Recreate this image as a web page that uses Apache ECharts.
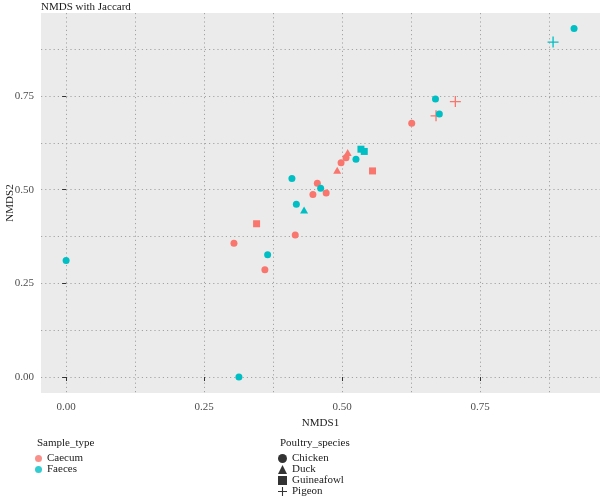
<!DOCTYPE html>
<html>
<head>
<meta charset="utf-8">
<script src="https://cdn.jsdelivr.net/npm/echarts@6/dist/echarts.min.js"></script>
<style>html,body{margin:0;padding:0;background:#fff}#c{width:600px;height:498px}</style>
</head>
<body>
<div id="c"></div>
<script>
// ---- data ----
const sampleType = ['Faeces','Faeces','Caecum','Faeces','Caecum','Caecum','Caecum','Faeces','Faeces','Faeces',
  'Caecum','Faeces','Caecum','Caecum','Caecum','Caecum','Caecum','Caecum','Faeces','Faeces',
  'Faeces','Caecum','Caecum','Faeces','Faeces','Caecum','Caecum','Faeces','Faeces'];
const species = ['Chicken','Chicken','Chicken','Chicken','Chicken','Guineafowl','Chicken','Chicken','Duck','Chicken',
  'Chicken','Chicken','Chicken','Chicken','Duck','Chicken','Chicken','Duck','Chicken','Guineafowl',
  'Guineafowl','Guineafowl','Chicken','Chicken','Chicken','Pigeon','Pigeon','Pigeon','Chicken'];
const nmds1 = [0.000,0.313,0.304,0.365,0.360,0.345,0.415,0.417,0.431,0.409,
  0.455,0.461,0.447,0.471,0.491,0.498,0.507,0.510,0.525,0.534,
  0.540,0.555,0.626,0.669,0.676,0.670,0.705,0.882,0.920];
const nmds2 = [0.311,0.000,0.357,0.326,0.286,0.409,0.379,0.461,0.446,0.530,
  0.517,0.504,0.487,0.491,0.552,0.572,0.585,0.599,0.581,0.608,
  0.602,0.550,0.677,0.742,0.702,0.697,0.735,0.894,0.930];
const sampleLevels = ['Caecum','Faeces'];
const speciesLevels = ['Chicken','Duck','Guineafowl','Pigeon'];
const xTicks = [0, 0.25, 0.5, 0.75];
const yTicks = [0, 0.25, 0.5, 0.75];
const xMinor = [0.125, 0.375, 0.625, 0.875];
const yMinor = [0.125, 0.375, 0.625, 0.875];

// ---- styles ----
const colors = {Caecum:'#F8766D', Faeces:'#00BFC4'};
const plusPath = 'path://M4.4,0H5.6V4.4H10V5.6H5.6V10H4.4V5.6H0V4.4H4.4Z';
const shapes = {Chicken:'circle', Duck:'triangle', Guineafowl:'rect', Pigeon:plusPath};
const sizes = {Chicken:7, Duck:[8,7], Guineafowl:7, Pigeon:11};
const FONT = '"Liberation Serif","DejaVu Serif",serif';

const series = [];
sampleLevels.forEach(st => {
  speciesLevels.forEach(sp => {
    const d = [];
    for (let i = 0; i < nmds1.length; i++) {
      if (sampleType[i] === st && species[i] === sp) d.push([nmds1[i], nmds2[i]]);
    }
    if (d.length) series.push({
      name: st + ' / ' + sp, type: 'scatter', data: d,
      xAxisIndex: 0, yAxisIndex: 0,
      symbol: shapes[sp], symbolSize: sizes[sp],
      itemStyle: {color: colors[st], opacity: 1},
      emphasis: {disabled: true}
    });
  });
});
// legend-only series
sampleLevels.forEach(st => series.push({name: st, type:'scatter', data: [], symbol:'circle', itemStyle:{color: colors[st]}}));
speciesLevels.forEach(sp => series.push({name: sp, type:'scatter', data: [], symbol: shapes[sp], itemStyle:{color:'#000'}}));

const gridLine = {show: true, lineStyle: {color: '#A3A3A3', width: 1, type: [1.2, 3]}};
const XMIN = -0.0455, XMAX = 0.967, YMIN = -0.0427, YMAX = 0.9715;

const option = {
  animation: false,
  backgroundColor: '#fff',
  textStyle: {fontFamily: FONT},
  title: [
    {text: 'NMDS with Jaccard', left: 36, top: -3, textStyle: {fontFamily: FONT, fontSize: 11, fontWeight: 'normal', color: '#1a1a1a'}},
    {text: 'Sample_type', left: 32, top: 433, textStyle: {fontFamily: FONT, fontSize: 11, fontWeight: 'normal', color: '#1a1a1a'}},
    {text: 'Poultry_species', left: 275, top: 433, textStyle: {fontFamily: FONT, fontSize: 11, fontWeight: 'normal', color: '#1a1a1a'}}
  ],
  legend: [
    {data: sampleLevels.map(s => ({name: s, icon: 'circle'})), left: 35, top: 453, height: 40, orient: 'vertical',
     itemWidth: 7, itemHeight: 7, itemGap: 0, selectedMode: false, padding: 0,
     textStyle: {fontFamily: FONT, fontSize: 11, color: '#1a1a1a', lineHeight: 11}},
    {data: speciesLevels.map(s => ({name: s, icon: shapes[s]})), left: 278, top: 453, height: 60, orient: 'vertical',
     itemWidth: 9, itemHeight: 9, itemGap: 0, selectedMode: false, padding: 0,
     textStyle: {fontFamily: FONT, fontSize: 11, color: '#1a1a1a', lineHeight: 11}}
  ],
  grid: {left: 41, top: 13, right: 0, bottom: 105, show: true, backgroundColor: '#ECEBEB', borderWidth: 0,
         containLabel: false, outerBoundsMode: 'none'},
  xAxis: [
    {type: 'value', min: XMIN, max: XMAX, name: 'NMDS1', nameLocation: 'middle', nameGap: 23,
     nameTextStyle: {fontFamily: FONT, fontSize: 11, color: '#1a1a1a'},
     axisLine: {show: false},
     axisTick: {show: true, length: 4, customValues: xTicks, lineStyle: {color: '#333'}},
     axisLabel: {show: true, customValues: xTicks, margin: 9, fontFamily: FONT, fontSize: 11, color: '#4D4D4D',
       formatter: v => v.toFixed(2)},
     splitLine: gridLine},
    {type: 'value', min: XMIN, max: XMAX, position: 'bottom',
     axisLine: {show: false}, axisTick: {show: false, customValues: xMinor}, axisLabel: {show: false, customValues: xMinor},
     splitLine: gridLine}
  ],
  yAxis: [
    {type: 'value', min: YMIN, max: YMAX, name: 'NMDS2', nameLocation: 'middle', nameGap: 25, nameMoveOverlap: false,
     nameTextStyle: {fontFamily: FONT, fontSize: 11, color: '#1a1a1a'},
     axisLine: {show: false},
     axisTick: {show: true, length: 4, customValues: yTicks, lineStyle: {color: '#333'}},
     axisLabel: {show: true, customValues: yTicks, margin: 7, fontFamily: FONT, fontSize: 11, color: '#4D4D4D',
       formatter: v => v.toFixed(2)},
     splitLine: gridLine},
    {type: 'value', min: YMIN, max: YMAX, position: 'left',
     axisLine: {show: false}, axisTick: {show: false, customValues: yMinor}, axisLabel: {show: false, customValues: yMinor},
     splitLine: gridLine}
  ],
  series: series
};
const chart = echarts.init(document.getElementById('c'), null, {renderer: 'canvas'});
chart.setOption(option);
</script>
</body>
</html>
